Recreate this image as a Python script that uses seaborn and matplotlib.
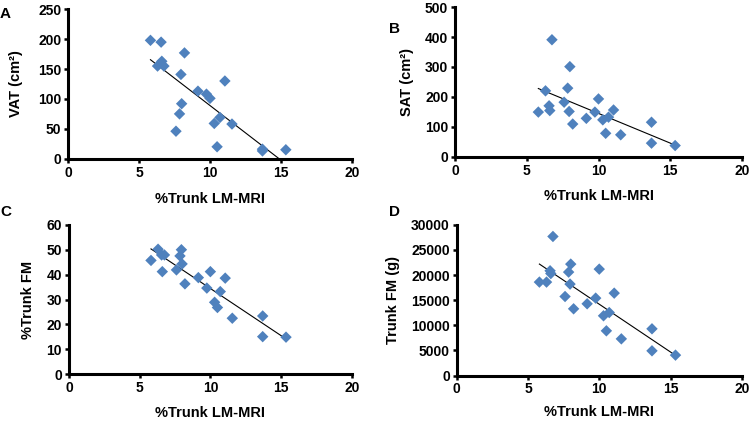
import matplotlib
matplotlib.use('Agg')
import matplotlib.pyplot as plt
import pandas as pd
import seaborn as sns

# %Trunk LM-MRI per subject (shared by all four panels)
trunk_lm = [5.8, 6.3, 6.55, 6.6, 6.75, 7.6, 7.85, 7.95, 8.0, 8.2, 9.15,
            9.75, 10.0, 10.3, 10.5, 10.7, 11.05, 11.55, 13.7, 13.7, 15.35]

vat = [198, 155, 195, 163, 155, 46, 75, 141, 92, 177, 113,
       108, 101, 59, 20, 69, 130, 58, 16, 13, 15]
sat = [149, 220, 170, 154, 391, 182, 229, 151, 301, 109, 128,
       149, 193, 123, 78, 132, 156, 73, 115, 45, 37]
trunk_fm_pct = [45.7, 50.2, 47.9, 41.2, 47.9, 41.9, 47.5, 50.0, 44.3, 36.3, 38.8,
                34.6, 41.2, 28.9, 26.8, 33.2, 38.6, 22.5, 23.4, 15.1, 14.9]
trunk_fm_g = [18600, 18600, 20850, 20300, 27680, 15730, 20590, 18200, 22180, 13280, 14280,
              15410, 21180, 11890, 8900, 12540, 16400, 7300, 9300, 4920, 4060]

BLUE = '#4F81BD'

df = pd.DataFrame({'lm': trunk_lm, 'vat': vat, 'sat': sat,
                   'fm_pct': trunk_fm_pct, 'fm_g': trunk_fm_g})

# (column, ylabel, ymax, ystep, letter, axes rect, letter pos, ylabel x, xlabel y)
panels = [
    ('vat', 'VAT (cm²)', 250, 50, 'A', [0.091, 0.623, 0.378, 0.355], (5, 14), -0.185, -0.27),
    ('sat', 'SAT (cm²)', 500, 100, 'B', [0.607, 0.628, 0.382, 0.355], (395, 29), -0.168, -0.263),
    ('fm_pct', '%Trunk FM', 60, 10, 'C', [0.092, 0.111, 0.377, 0.355], (6, 212), -0.144, -0.259),
    ('fm_g', 'Trunk FM (g)', 30000, 5000, 'D', [0.609, 0.108, 0.380, 0.358], (395, 212), -0.2225, -0.245),
]

plt.rcParams['font.family'] = ['Liberation Sans', 'DejaVu Sans']
plt.rcParams['font.weight'] = 'bold'

fig = plt.figure(figsize=(7.5, 4.21), dpi=100)

for col, ylabel, ymax, ystep, letter, rect, letter_pos, ylab_x, xlab_y in panels:
    ax = fig.add_axes(rect)
    sns.regplot(data=df, x='lm', y=col, ax=ax, scatter=False, ci=None,
                line_kws={'color': 'black', 'linewidth': 0.8})
    sns.scatterplot(data=df, x='lm', y=col, ax=ax, marker='D', s=34,
                    color=BLUE, edgecolor='none', linewidth=0, zorder=3, clip_on=False)
    ax.set_xlim(0, 20)
    ax.set_ylim(0, ymax)
    ax.set_xticks(range(0, 21, 5))
    ax.set_yticks(range(0, ymax + 1, ystep))
    for side in ['top', 'right']:
        ax.spines[side].set_visible(False)
    for side in ['left', 'bottom']:
        ax.spines[side].set_linewidth(2.2)
        ax.spines[side].set_color('black')
    ax.tick_params(direction='out', length=3, width=1.8, labelsize=10, pad=2)
    for lab in ax.get_xticklabels() + ax.get_yticklabels():
        lab.set_fontweight('bold')
    ax.set_xlabel('%Trunk LM-MRI', fontsize=10.5, fontweight='bold')
    ax.set_ylabel(ylabel, fontsize=10.5, fontweight='bold')
    ax.xaxis.set_label_coords(0.5, xlab_y)
    ax.xaxis.label.set_va('center')
    ax.yaxis.set_label_coords(ylab_x, 0.5)
    ax.yaxis.label.set_va('center')
    fig.text(letter_pos[0] / 750, 1 - letter_pos[1] / 421, letter, fontsize=11,
             fontweight='bold', ha='center', va='center')

fig.savefig('out.png', dpi=100)
